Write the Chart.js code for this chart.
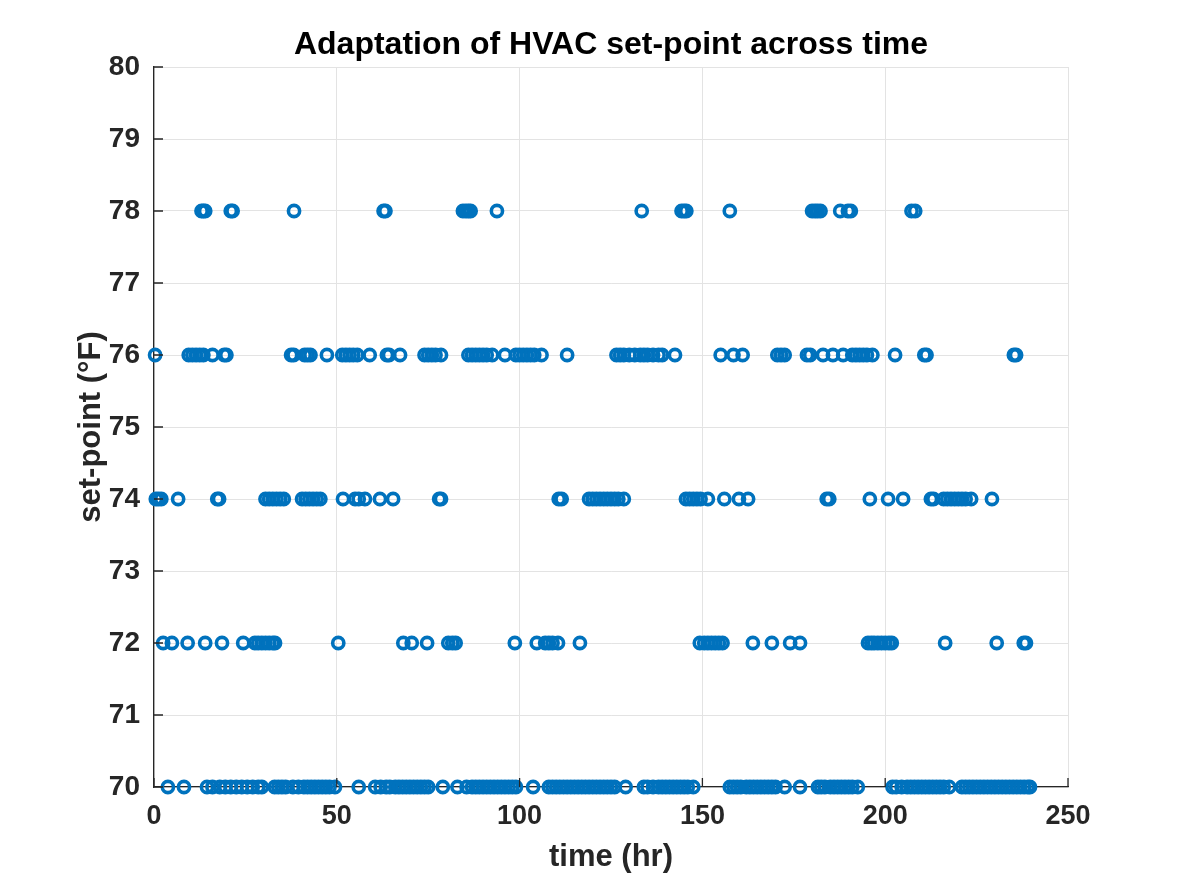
<!DOCTYPE html>
<html>
<head>
<meta charset="utf-8">
<script src="https://cdn.jsdelivr.net/npm/chart.js@4"></script>
<style>
  html, body { margin: 0; padding: 0; background: #fff; }
  #wrap { width: 1181px; height: 886px; }
</style>
</head>
<body>
<div id="wrap"><canvas id="chart-setpoint" width="1181" height="886"></canvas></div>
<script>
// set-point levels (F) and the times (hr) each one was held
const levels = [70, 72, 74, 76, 78];

const t78 = [13, 13.5, 14, 21, 21.5, 38.3, 62.8, 63.3, 84.5, 85.3, 86, 86.6, 93.8,
  133.4, 144.3, 145, 145.6, 157.5, 180, 180.8, 181.5, 182.3, 187.7, 189.8, 190.6,
  207.2, 208.2];

const t76 = [0.3, 9.5, 10.5, 11.5, 12.5, 13.5, 16, 19.2, 19.8, 37.5, 38.2, 41.2, 42,
  42.8, 47.3, 51.5, 52.5, 53.5, 54.5, 55.6, 59, 63.7, 64.3, 67.3, 74, 75, 76, 77,
  78.5, 86, 87, 88, 89, 90, 91, 92.5, 96, 99, 100, 101, 102, 103, 104, 106, 113,
  126.5, 127.5, 128.5, 130, 131.5, 133, 134, 135, 136.5, 138, 139, 142.5, 155,
  158.5, 161, 170.5, 171.5, 172.5, 178.6, 179.5, 183, 185.7, 188.5, 191, 192, 193,
  194, 195, 196.5, 202.7, 210.7, 211.3, 235.2, 235.8];

const t74 = [0.5, 1.2, 2, 6.6, 17.3, 17.8, 30.5, 31.5, 32.5, 33.5, 34.5, 35.5, 40.5,
  41.5, 42.5, 43.5, 44.5, 45.5, 51.7, 55, 56, 57.7, 61.8, 65.4, 78, 78.5, 110.7,
  111.5, 119, 120, 121, 122, 123, 124, 125, 126, 127, 128.5, 145.5, 146.5, 147.5,
  148.5, 149.5, 151.5, 156, 160, 162.5, 184, 184.7, 195.8, 200.8, 204.9, 212.5,
  213.2, 216, 217, 218, 219, 220, 221, 222, 223.5, 229.2];

const t72 = [2.5, 4.9, 9.2, 14, 18.6, 24.4, 27.6, 28.5, 29.5, 30.5, 31.5, 32.5, 33.1,
  50.4, 68.2, 70.5, 74.7, 80.5, 81.6, 82.5, 98.7, 104.7, 107, 108, 109, 110.5,
  116.5, 149.3, 150.5, 151.5, 152.5, 153.5, 154.5, 155.5, 163.8, 169, 174, 176.7,
  195.3, 196.2, 197, 198, 199, 200, 201, 201.8, 216.4, 230.5, 237.9, 238.5];

const t70 = [3.8, 8.2, 14.5, 16, 18, 19.5, 21, 22.5, 24, 25.5, 27, 28.5, 29.5,
  33, 34, 35, 36, 38, 39.5, 41, 42, 43, 44, 45, 46, 47, 48, 49.5, 56, 60.5,
  62, 63.5, 64.5, 66, 67, 68, 69, 70, 71, 72, 73, 74, 75, 79, 83,
  85.5, 87, 88, 89, 90, 91, 92, 93, 94, 95, 96, 97, 98, 99, 103.7,
  108, 109, 110, 111, 112, 113, 114, 115, 116, 117, 118, 119, 120, 121, 122, 123,
  124, 125, 126, 129, 134, 135, 136.5, 138, 139, 140, 141, 142, 143, 144, 145, 146,
  147.5, 157.5, 158.5, 159.5, 160.5, 162, 163, 164, 165, 166, 167, 168, 169, 170,
  172.5, 176.7, 181.6, 182.5, 183.5, 185, 186, 187, 188, 189, 190, 191, 192.5,
  202, 203, 204.5, 206, 207, 208, 209, 210, 211, 212, 213, 214, 215, 216, 217.5,
  221, 222, 223, 224, 225, 226, 227, 228, 229, 230, 231, 232, 233, 234, 235, 236,
  237, 238, 239, 239.6];

const timesByLevel = [t70, t72, t74, t76, t78];

const xTicks = [0, 50, 100, 150, 200, 250];
const yTicks = [70, 71, 72, 73, 74, 75, 76, 77, 78, 79, 80];

const FONT = '"Liberation Sans", Arial, Helvetica, sans-serif';
const TXT = '#262626';

// build scatter points from the arrays
const points = [];
levels.forEach((lvl, i) => {
  timesByLevel[i].forEach(t => points.push({ x: t, y: lvl }));
});

// MATLAB-like inward tick marks + centered title
const matlabAxes = {
  id: 'matlabAxes',
  afterDraw(chart) {
    const ctx = chart.ctx;
    const area = chart.chartArea;
    const xs = chart.scales.x;
    const ys = chart.scales.y;
    ctx.save();
    ctx.strokeStyle = TXT;
    ctx.lineWidth = 1.3;
    ctx.beginPath();
    xTicks.forEach(v => {
      const px = xs.getPixelForValue(v);
      ctx.moveTo(px, area.bottom);
      ctx.lineTo(px, area.bottom - 9);
    });
    yTicks.forEach(v => {
      const py = ys.getPixelForValue(v);
      ctx.moveTo(area.left, py);
      ctx.lineTo(area.left + 9, py);
    });
    ctx.stroke();

    ctx.fillStyle = '#000';
    ctx.font = 'bold 32px ' + FONT;
    ctx.textAlign = 'center';
    ctx.textBaseline = 'middle';
    ctx.fillText('Adaptation of HVAC set-point across time', (area.left + area.right) / 2, 45);
    ctx.restore();
  }
};

const ctx = document.getElementById('chart-setpoint');
new Chart(ctx, {
  type: 'scatter',
  data: {
    datasets: [{
      label: 'set-point',
      data: points,
      pointStyle: 'circle',
      pointRadius: 5.6,
      pointBorderWidth: 3.6,
      borderColor: '#0072BD',
      backgroundColor: 'rgba(0,0,0,0)',
      pointHoverRadius: 5.6,
      clip: false
    }]
  },
  options: {
    responsive: false,
    animation: false,
    layout: {
      padding: { top: 67, right: 113, bottom: 0, left: 0 }
    },
    plugins: {
      legend: { display: false },
      title: { display: false },
      tooltip: { enabled: false }
    },
    scales: {
      x: {
        type: 'linear',
        min: 0,
        max: 250,
        afterBuildTicks: axis => { axis.ticks = xTicks.map(v => ({ value: v })); },
        afterFit: axis => { axis.height = 99; },
        ticks: {
          color: TXT,
          padding: 13,
          maxRotation: 0,
          font: { family: FONT, size: 27, weight: 'bold' }
        },
        grid: { color: '#e3e3e3', lineWidth: 1, drawTicks: false },
        border: { display: true, color: TXT, width: 1.3 },
        title: {
          display: true,
          text: 'time (hr)',
          color: TXT,
          font: { family: FONT, size: 31, weight: 'bold' },
          padding: { top: 0, bottom: 10 }
        }
      },
      y: {
        type: 'linear',
        min: 70,
        max: 80,
        afterBuildTicks: axis => { axis.ticks = yTicks.map(v => ({ value: v })); },
        afterFit: axis => { axis.width = 154; },
        ticks: {
          color: TXT,
          padding: 14,
          font: { family: FONT, size: 28, weight: 'bold' }
        },
        grid: { color: '#e3e3e3', lineWidth: 1, drawTicks: false },
        border: { display: true, color: TXT, width: 1.3 },
        title: {
          display: true,
          text: 'set-point (°F)',
          color: TXT,
          font: { family: FONT, size: 31, weight: 'bold' },
          padding: { top: 73, bottom: 0 }
        }
      }
    }
  },
  plugins: [matlabAxes]
});
</script>
</body>
</html>
